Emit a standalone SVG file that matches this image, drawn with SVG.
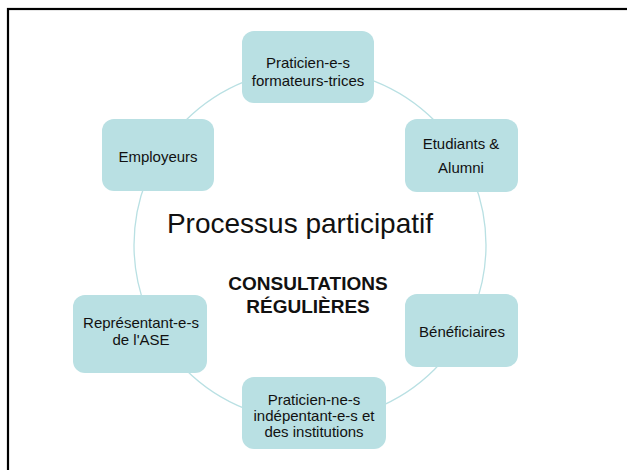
<svg xmlns="http://www.w3.org/2000/svg" width="627" height="470" viewBox="0 0 627 470">
<style>
.node rect{fill:#b9e0e3;stroke:none}
.node text{font-family:"Liberation Sans",Arial,sans-serif;font-size:15px;fill:#111;text-anchor:middle}
.ring{fill:none;stroke:#b9e0e3;stroke-width:1.3}
.title{font-family:"Liberation Sans",Arial,sans-serif;font-size:28px;fill:#111;text-anchor:middle}
.sub{font-family:"Liberation Sans",Arial,sans-serif;font-size:19px;font-weight:bold;fill:#111;text-anchor:middle}
</style>
<rect x="0" y="0" width="627" height="470" fill="#fff"/>
<rect x="8" y="9" width="640" height="480" fill="none" stroke="#000" stroke-width="2.2"/>
<g id="connectors">
<circle class="ring" cx="310" cy="245" r="176"/>
</g>
<text class="title" x="300" y="233">Processus participatif</text>
<text class="sub" x="308" y="290">CONSULTATIONS</text>
<text class="sub" x="308" y="313">RÉGULIÈRES</text>
<g id="n1" class="node"><rect x="242" y="31" width="132" height="72" rx="12"/><text x="308" y="68">Praticien-e-s</text><text x="308" y="86">formateurs-trices</text></g>
<g id="n2" class="node"><rect x="405" y="119" width="113" height="73" rx="12"/><text x="461" y="149">Etudiants &amp;</text><text x="461" y="173">Alumni</text></g>
<g id="n3" class="node"><rect x="405" y="294" width="113" height="73" rx="12"/><text x="462" y="337">Bénéficiaires</text></g>
<g id="n4" class="node"><rect x="242" y="377" width="144" height="72" rx="12"/><text x="314" y="405">Praticien-ne-s</text><text x="314" y="421">indépentant-e-s et</text><text x="314" y="437">des institutions</text></g>
<g id="n5" class="node"><rect x="73" y="295" width="134" height="78" rx="12"/><text x="141" y="328">Représentant-e-s</text><text x="141" y="345">de l'ASE</text></g>
<g id="n6" class="node"><rect x="102" y="119" width="112" height="72" rx="12"/><text x="158" y="162">Employeurs</text></g>
</svg>
